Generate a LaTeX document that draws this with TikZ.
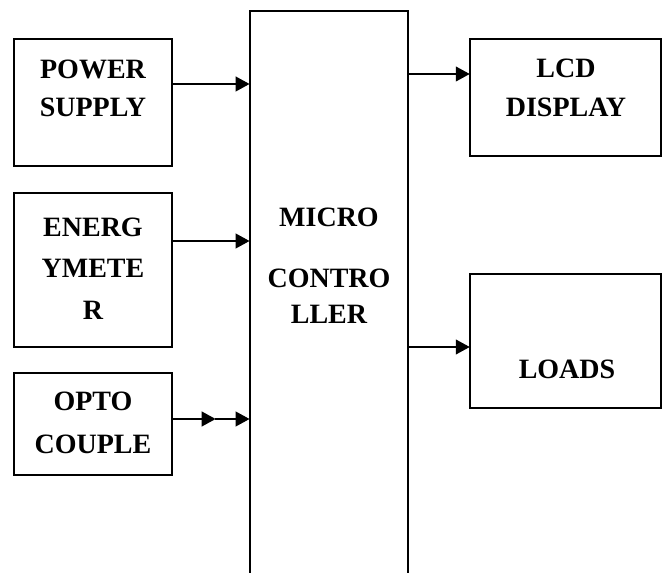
\documentclass[tikz,border=0pt]{standalone}
\usepackage{fontspec}
\setmainfont{Liberation Serif}
\usetikzlibrary{arrows.meta}
\tikzset{
  box/.style={draw, line width=1.6pt, rectangle, inner sep=0pt},
  lbl/.style={font=\bfseries\fontsize{21}{25}\selectfont, anchor=base, inner sep=0pt},
  arr/.style={line width=1.6pt, -{Triangle[length=10.5pt,width=11pt]}, shorten >=-0.5pt}
}
\begin{document}
\begin{tikzpicture}[x=0.75pt,y=-0.75pt]
\clip (0,0) rectangle (663,573);
\fill[white] (0,0) rectangle (663,573);
% boxes
\node[box, minimum width=118.5pt, minimum height=95.25pt] (ps) at (93,102.5) {};
\node[box, minimum width=118.5pt, minimum height=115.5pt] (em) at (93,270) {};
\node[box, minimum width=118.5pt, minimum height=76.5pt] (op) at (93,424) {};
\node[box, minimum width=118.5pt, minimum height=441.75pt] (mc) at (329,305.5) {};
\node[box, minimum width=143pt, minimum height=87.75pt] (lcd) at (565.5,97.5) {};
\node[box, minimum width=143pt, minimum height=100.5pt] (ld) at (565.5,341) {};
% labels
\node[lbl] (t1) at (93,79) {POWER};
\node[lbl] (t2) at (93,117) {SUPPLY};
\node[lbl] (t3) at (93,237) {ENERG};
\node[lbl] (t4) at (93,278) {YMETE};
\node[lbl] (t5) at (93,320) {R};
\node[lbl] (t6) at (93,410) {OPTO};
\node[lbl] (t7) at (93,453) {COUPLE};
\node[lbl] (t8) at (329,227) {MICRO};
\node[lbl] (t9) at (329,287) {CONTRO};
\node[lbl] (t10) at (329,323) {LLER};
\node[lbl] (t11) at (566,78) {LCD};
\node[lbl] (t12) at (566,117) {DISPLAY};
\node[lbl] (t13) at (567,378) {LOADS};
% connectors
\draw[arr] (ps.east |- 0,84) -- (mc.west |- 0,84);
\draw[arr] (em.east |- 0,241) -- (mc.west |- 0,241);
\coordinate (om) at (215,419);
\draw[arr] (op.east |- 0,419) -- (om);
\draw[arr] (om) -- (mc.west |- 0,419);
\draw[arr] (mc.east |- 0,74) -- (lcd.west |- 0,74);
\draw[arr] (mc.east |- 0,347) -- (ld.west |- 0,347);
\end{tikzpicture}
\end{document}
